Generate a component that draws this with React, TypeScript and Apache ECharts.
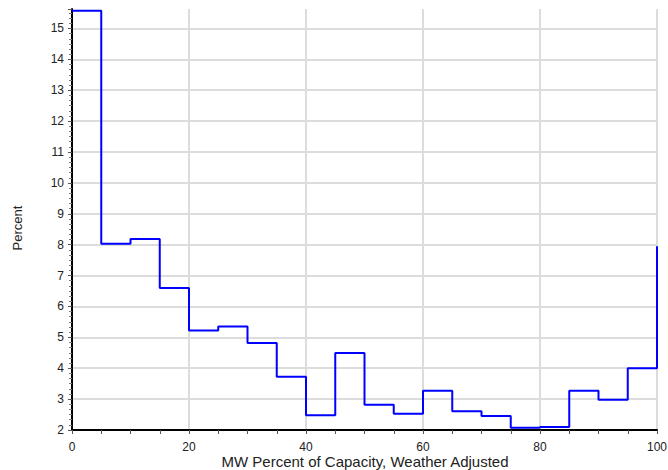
import React, { useEffect, useRef } from "react";
import * as echarts from "echarts";

// Left edge of each 5 MW-percent bin, plus the closing point at 100
const binStarts = [0, 5, 10, 15, 20, 25, 30, 35, 40, 45, 50, 55, 60, 65, 70, 75, 80, 85, 90, 95, 100];
// Share of hours (percent) falling in each bin
const percentValues = [
  15.57, 8.03, 8.18, 6.6, 5.22, 5.35, 4.82, 3.72, 2.48, 4.49, 2.82,
  2.53, 3.27, 2.61, 2.45, 2.07, 2.1, 3.27, 2.98, 4.0, 7.95,
];

const xTitle = "MW Percent of Capacity, Weather Adjusted";
const yTitle = "Percent";

const Y_MIN = 2;
const Y_MAX = 15.63;

export default function App() {
  const ref = useRef<HTMLDivElement | null>(null);

  useEffect(() => {
    if (!ref.current) return;
    const chart = echarts.init(ref.current, null, { renderer: "svg" });
    const font = "Arial, 'Liberation Sans', sans-serif";
    const gridColor = "#dcdcdc";
    // one split-line colour per y tick; the last (at the axis max) is hidden
    const yLineColors = [] as string[];
    for (let v = Y_MIN; v <= 15; v++) yLineColors.push(gridColor);
    yLineColors.push("rgba(0,0,0,0)");

    chart.setOption({
      animation: false,
      backgroundColor: "#ffffff",
      grid: {
        left: 72,
        right: 11,
        top: 9,
        bottom: 40,
        containLabel: false,
        outerBoundsMode: "none",
      },
      xAxis: {
        type: "value",
        min: 0,
        max: 100,
        interval: 20,
        axisLine: { show: true, onZero: false, lineStyle: { color: "#000", width: 2 } },
        axisTick: { show: true, length: 4, lineStyle: { color: "#555" } },
        minorTick: { show: true, splitNumber: 4, length: 4, lineStyle: { color: "#555" } },
        axisLabel: { fontFamily: font, fontSize: 12, color: "#222", margin: 11 },
        splitLine: { show: true, lineStyle: { color: gridColor, width: 2 } },
      },
      yAxis: {
        type: "value",
        min: Y_MIN,
        max: Y_MAX,
        interval: 1,
        axisLine: { show: true, onZero: false, lineStyle: { color: "#000", width: 2 } },
        axisTick: { show: true, length: 4, lineStyle: { color: "#555" } },
        minorTick: { show: true, splitNumber: 6, length: 3, lineStyle: { color: "#777" } },
        axisLabel: {
          fontFamily: font,
          fontSize: 12,
          color: "#222",
          margin: 8,
          formatter: (v: number) => (Number.isInteger(v) ? String(v) : ""),
        },
        splitLine: { show: true, lineStyle: { color: yLineColors, width: 2 } },
      },
      graphic: [
        {
          type: "text",
          x: 17,
          y: 228,
          rotation: Math.PI / 2,
          style: {
            text: yTitle,
            fontFamily: font,
            fontSize: 13,
            fill: "#222",
            textAlign: "center",
            textVerticalAlign: "middle",
          },
        },
        {
          type: "text",
          x: 365,
          y: 461,
          style: {
            text: xTitle,
            fontFamily: font,
            fontSize: 15,
            fill: "#222",
            textAlign: "center",
            textVerticalAlign: "middle",
          },
        },
      ],
      series: [
        {
          type: "line",
          step: "end",
          showSymbol: false,
          symbol: "none",
          data: binStarts.map((x, i) => [x, percentValues[i]]),
          lineStyle: { color: "#0000ff", width: 2 },
          itemStyle: { color: "#0000ff" },
        },
      ],
    });
    return () => chart.dispose();
  }, []);

  return (
    <div
      ref={ref}
      style={{ position: "fixed", left: 0, top: 0, width: 668, height: 470, background: "#fff" }}
    />
  );
}
